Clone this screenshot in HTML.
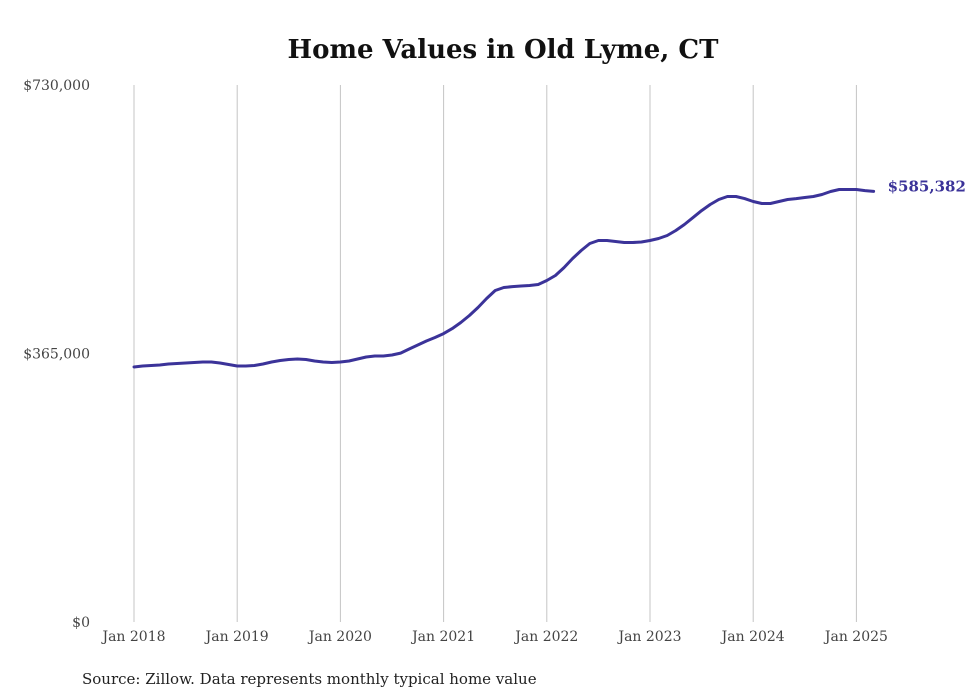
<!DOCTYPE html>
<html><head><meta charset="utf-8"><style>
body{margin:0;background:#fff;}
svg{display:block;font-family:"DejaVu Serif","Liberation Serif",serif;}
</style></head><body>
<svg id="chart" width="980" height="699">
<text x="503" y="58" text-anchor="middle" font-size="26" font-weight="bold" fill="#111">Home Values in Old Lyme, CT</text>
<g id="grid"></g><g id="yaxis"></g><g id="xaxis"></g><g id="series"></g>
<text x="82" y="684" font-size="15" fill="#222">Source: Zillow. Data represents monthly typical home value</text>
</svg>
<script>
const yTicks=[0,365000,730000];
const yTickLabels=["$0","$365,000","$730,000"];
const xTickYears=[2018,2019,2020,2021,2022,2023,2024,2025];
const xTickLabels=["Jan 2018","Jan 2019","Jan 2020","Jan 2021","Jan 2022","Jan 2023","Jan 2024","Jan 2025"];
const startYear=2018;
const values=[
346600,348000,348700,349400,350700,351400,352100,352800,353400,353400,352100,350000,
348000,348000,348700,350700,353400,355500,356800,357500,356800,354800,353400,352800,
353400,354800,357500,360200,361600,361600,362900,365600,371100,376500,382000,386700,
392100,398900,407100,416600,427500,439700,450600,454700,456000,456700,457400,458800,
464200,471000,481800,494100,505000,514500,518600,518600,517200,515900,515900,516600,
518600,521300,525400,532200,540300,549800,559300,567500,574300,578400,578400,575600,
571600,568900,568900,571600,574300,575600,577000,578400,581100,585200,587900,587900,
587900,586500,585382];
const lastLabel="$585,382";
const NS="http://www.w3.org/2000/svg";
const x0=134,pxYear=103.2,yBase=622,yTop=85,yMax=730000;
function xs(m){return x0+m*pxYear/12;}
function ys(v){return yBase-(v/yMax)*(yBase-yTop);}
function mk(tag,attrs,parent){const e=document.createElementNS(NS,tag);for(const k in attrs)e.setAttribute(k,attrs[k]);parent.appendChild(e);return e;}
const grid=document.getElementById('grid'),ya=document.getElementById('yaxis'),xa=document.getElementById('xaxis'),se=document.getElementById('series');
xTickYears.forEach((yr,i)=>{
 const x=xs((yr-startYear)*12);
 const l=mk('line',{x1:x,x2:x,y1:yTop,y2:yBase,stroke:'#c4c4c4','stroke-width':1},grid);
 
 
 const t=mk('text',{x:x,y:yBase+19,'text-anchor':'middle','font-size':14,fill:'#444'},xa);
 t.textContent=xTickLabels[i];
 
 
});
yTicks.forEach((v,i)=>{
 const t=mk('text',{x:90,y:ys(v)+5,'text-anchor':'end','font-size':14,fill:'#444'},ya);
 t.textContent=yTickLabels[i];
 
 
});
const pts=values.map((v,i)=>xs(i).toFixed(1)+','+ys(v).toFixed(1)).join(' ');
const pl=mk('polyline',{points:pts,fill:'none',stroke:'#3b3399','stroke-width':3,'stroke-linejoin':'round','stroke-linecap':'round'},se);


const li=values.length-1;
const lt=mk('text',{x:xs(li)+14,y:ys(values[li])+0,'font-size':15,'font-weight':'bold',fill:'#3b3399'},se);
lt.textContent=lastLabel;


</script>
</body></html>
